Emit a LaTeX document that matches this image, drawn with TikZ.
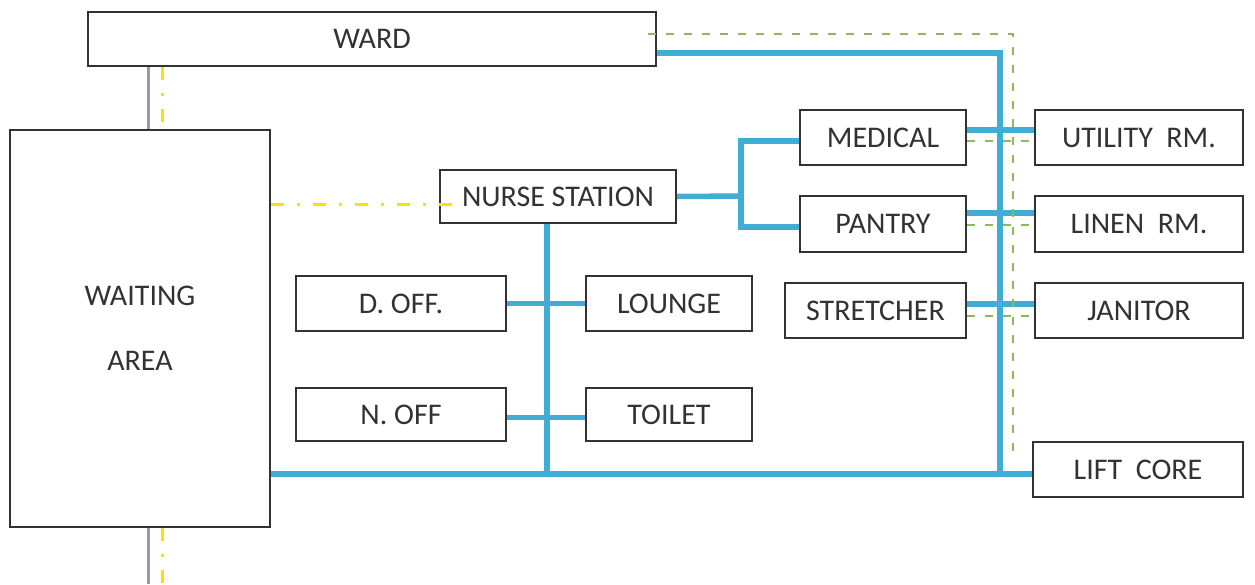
\documentclass[tikz,border=0pt]{standalone}
\usepackage{fontspec}
\setmainfont{Carlito}
\begin{document}
\begin{tikzpicture}[x=1pt,y=-1pt,
  roombox/.style={draw=boxgray,line width=2pt,text=txtgray,
    font=\fontsize{30}{34}\selectfont,inner sep=0pt},
  corridor/.style={draw=linkblue,line width=5.5pt},
  service/.style={draw=svcgreen,line width=2pt,dash pattern=on 8pt off 10pt},
  visual/.style={draw=visyellow,line width=3pt,dash pattern=on 13pt off 13pt on 3pt off 13pt},
  access/.style={draw=accgray,line width=3pt}]
\definecolor{boxgray}{RGB}{50,50,50}
\definecolor{txtgray}{RGB}{50,50,50}
\definecolor{linkblue}{RGB}{64,173,214}
\definecolor{svcgreen}{RGB}{141,185,90}
\definecolor{visyellow}{RGB}{255,225,0}
\definecolor{accgray}{RGB}{150,150,185}
\useasboundingbox (0,0) rectangle (1255,584);

% rooms
\node[roombox,minimum width=568pt,minimum height=54pt] (ward) at (372,39) {WARD};
\node[roombox,minimum width=260pt,minimum height=397pt,align=center,
  font=\fontsize{30}{65}\selectfont] (wait) at (140,328.5) {\raisebox{-3pt}{WAITING}\\\raisebox{-3pt}{AREA}};
\node[roombox,minimum width=236pt,minimum height=53pt] (nurse) at (558,196.5) {NURSE STATION};
\node[roombox,minimum width=166pt,minimum height=55pt] (med) at (883,137.5) {MEDICAL};
\node[roombox,minimum width=166pt,minimum height=56pt] (pantry) at (883,224) {PANTRY};
\node[roombox,minimum width=208pt,minimum height=55pt] (util) at (1139,137.5) {UTILITY\ \ RM.};
\node[roombox,minimum width=208pt,minimum height=56pt] (linen) at (1139,224) {LINEN\ \ RM.};
\node[roombox,minimum width=208pt,minimum height=55pt] (janitor) at (1139,310.5) {JANITOR};
\node[roombox,minimum width=181pt,minimum height=55pt] (stretch) at (875.5,310.5) {STRETCHER};
\node[roombox,minimum width=210pt,minimum height=55pt] (doff) at (401,303.5) {D. OFF.};
\node[roombox,minimum width=166pt,minimum height=55pt] (lounge) at (669,303.5) {LOUNGE};
\node[roombox,minimum width=210pt,minimum height=53pt] (noff) at (401,414.5) {N. OFF};
\node[roombox,minimum width=166pt,minimum height=53pt] (toilet) at (669,414.5) {TOILET};
\node[roombox,minimum width=210pt,minimum height=55pt] (lift) at (1138,469.5) {LIFT\ \ CORE};

% junction points
\coordinate (spine) at (1000,474);
\coordinate (nv) at (547,474);
\coordinate (fork) at (741,196);
\coordinate (gEnd) at (1013,455);
\coordinate (accL) at (148,584);
\coordinate (visL) at (162,584);

% main circulation
\draw[corridor] ([yshift=-14pt]ward.east) -| (spine);
\draw[corridor] (wait.east |- spine) -- (lift.west |- spine);
\draw[corridor] (nurse.south -| nv) -- (nv);
\draw[corridor] (doff.east) -- (lounge.west);
\draw[corridor] ([yshift=-3pt]noff.east) -- ([yshift=-3pt]toilet.west);
\draw[corridor] (nurse.east) -- (fork);
\draw[corridor] ([yshift=-3.5pt]med.west) -| (fork) |- ([yshift=-3pt]pantry.west);
\draw[corridor] ([yshift=7.5pt]med.east) -- ([yshift=7.5pt]util.west);
\draw[corridor] ([yshift=11pt]pantry.east) -- ([yshift=11pt]linen.west);
\draw[corridor] ([yshift=6.5pt]stretch.east) -- ([yshift=6.5pt]janitor.west);

% service route
\draw[service] ([xshift=-9pt,yshift=5pt]ward.east) -| (gEnd);
\draw[service] ([yshift=-3.5pt]med.east) -- ([yshift=-3.5pt]util.west);
\draw[service] ([yshift=-1pt]pantry.east) -- ([yshift=-1pt]linen.west);
\draw[service] ([yshift=-5.5pt]stretch.east) -- ([yshift=-5.5pt]janitor.west);

% visual link and public access
\draw[visual] (wait.east |- 0,204) -- ([xshift=17pt,yshift=-7.5pt]nurse.west);
\draw[visual] (ward.south -| visL) -- (wait.north -| visL);
\draw[visual] (wait.south -| visL) -- (visL);
\draw[access] (ward.south -| accL) -- (wait.north -| accL);
\draw[access] (wait.south -| accL) -- (accL);
\end{tikzpicture}
\end{document}
